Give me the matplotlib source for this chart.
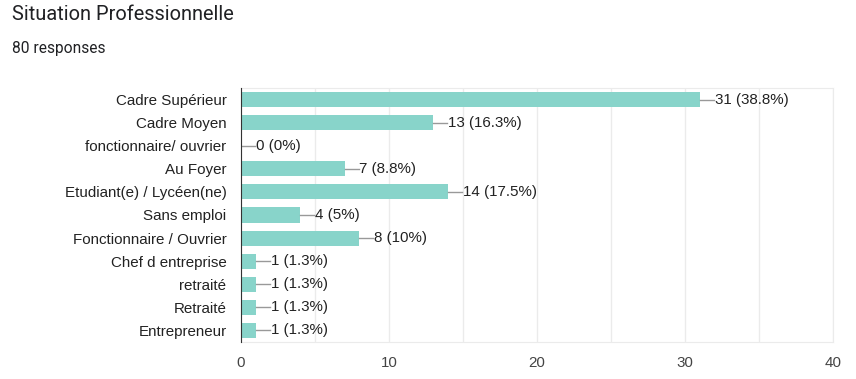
import matplotlib.pyplot as plt
import numpy as np

categories = ["Cadre Supérieur", "Cadre Moyen", "fonctionnaire/ ouvrier", "Au Foyer",
              "Etudiant(e) / Lycéen(ne)", "Sans emploi", "Fonctionnaire / Ouvrier",
              "Chef d entreprise", "retraité", "Retraité", "Entrepreneur"]
counts = [31, 13, 0, 7, 14, 4, 8, 1, 1, 1, 1]
percent_labels = ["38.8%", "16.3%", "0%", "8.8%", "17.5%", "5%", "10%",
                  "1.3%", "1.3%", "1.3%", "1.3%"]
x_ticks = [0, 10, 20, 30, 40]

plt.rcParams['font.family'] = ['Liberation Sans', 'DejaVu Sans']

fig = plt.figure(figsize=(8.56, 3.79), dpi=100)
ax = fig.add_axes([241 / 856, 1 - 342 / 379, 592 / 856, 254 / 379])

y = np.arange(len(categories))
ax.barh(y, counts, height=0.65, color="#88d4ca", zorder=3)

# petits traits + valeurs a droite des barres
trait = 14 * 40 / 592
for yi, c, p in zip(y, counts, percent_labels):
    ax.plot([c, c + trait], [yi, yi], color="#999999", lw=1, zorder=3)
    ax.text(c + trait + 0.05, yi, f"{c} ({p})", va="center", ha="left",
            fontsize=10.9, color="#222222", zorder=4)

ax.set_xlim(0, 40)
ax.set_ylim(len(categories) - 0.5, -0.5)
ax.set_yticks(y)
ax.set_yticklabels(categories, fontsize=10.9, color="#222222")
ax.set_xticks(x_ticks)
ax.set_xticklabels([str(t) for t in x_ticks], fontsize=10.9, color="#444444")
ax.set_xticks(np.arange(5, 40, 5), minor=True)
ax.tick_params(axis="both", which="both", length=0)
ax.tick_params(axis="y", pad=10.5)
ax.tick_params(axis="x", pad=10)
ax.grid(axis="x", which="both", color="#ebebeb", lw=1, zorder=0)

for s in ["top", "right", "bottom"]:
    ax.spines[s].set_color("#ebebeb")
ax.spines["left"].set_color("#333333")
ax.spines["left"].set_zorder(5)

fig.text(12 / 856, 1 - 15 / 379, "Situation Professionnelle", fontsize=14.4,
         family=["Roboto", "DejaVu Sans"], color="#202124", va="center")
fig.text(12 / 856, 1 - 48 / 379, "80 responses", fontsize=11.2,
         family=["Roboto", "DejaVu Sans"], color="#202124", va="center")

fig.savefig("out.png", dpi=100)
